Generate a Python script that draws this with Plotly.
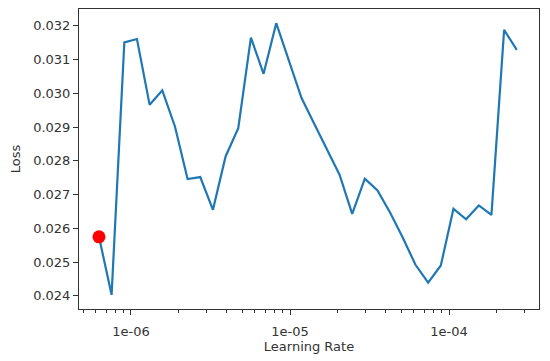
import plotly.graph_objects as go

# Learning rates (x) and losses (y)
lrs = [6.29e-7, 7.55e-7, 9.08e-7, 1.090e-6, 1.310e-6, 1.573e-6, 1.890e-6, 2.270e-6,
       2.727e-6, 3.276e-6, 3.935e-6, 4.727e-6, 5.678e-6, 6.821e-6, 8.193e-6, 9.84e-6,
       1.182e-5, 1.420e-5, 1.706e-5, 2.049e-5, 2.461e-5, 2.956e-5, 3.551e-5, 4.266e-5,
       5.124e-5, 6.155e-5, 7.393e-5, 8.881e-5, 1.067e-4, 1.281e-4, 1.539e-4, 1.849e-4,
       2.221e-4, 2.668e-4]
losses = [0.02575, 0.02403, 0.03151, 0.03161, 0.02966, 0.03009, 0.02902, 0.02746,
          0.02752, 0.02655, 0.02813, 0.02897, 0.03165, 0.03058, 0.03208, 0.03096,
          0.02986, 0.02910, 0.02833, 0.02759, 0.02643, 0.02747, 0.02712, 0.02646,
          0.02572, 0.02492, 0.02439, 0.02490, 0.02658, 0.02627, 0.02668, 0.02640,
          0.03188, 0.03129]
point_lr = [6.29e-7]
point_loss = [0.02575]

x_tickvals = [1e-6, 1e-5, 1e-4]
x_ticktext = ["1e-06", "1e-05", "1e-04"]
y_tickvals = [0.024, 0.025, 0.026, 0.027, 0.028, 0.029, 0.030, 0.031, 0.032]
y_ticktext = ["0.024", "0.025", "0.026", "0.027", "0.028", "0.029", "0.030", "0.031", "0.032"]

minor_vals = [m * 10.0 ** e for e in (-7, -6, -5, -4) for m in range(2, 10)]

fig = go.Figure()
fig.add_trace(go.Scatter(x=lrs, y=losses, mode="lines",
                         line=dict(color="#1f77b4", width=2.2), showlegend=False))
fig.add_trace(go.Scatter(x=point_lr, y=point_loss, mode="markers",
                         marker=dict(color="#ff0000", size=13), showlegend=False))

font = dict(family="DejaVu Sans", size=13, color="#333333")
# page body has an 8px margin, so the figure is 8px smaller and offset
fig.update_layout(
    width=542, height=353,
    margin=dict(l=71, r=11, t=1, b=52),
    paper_bgcolor="white", plot_bgcolor="white",
    font=font,
    xaxis=dict(type="log", range=[-6.327, -3.434],
               tickmode="array", tickvals=x_tickvals, ticktext=x_ticktext,
               ticks="outside", ticklen=5, tickcolor="#333333",
               ticklabelstandoff=5,
               showgrid=False, zeroline=False,
               showline=True, mirror=True, linecolor="#333333", linewidth=1,
               minor=dict(tickmode="array", tickvals=minor_vals, ticks="outside",
                          ticklen=2.5, tickcolor="#333333", showgrid=False),
               title=dict(text="Learning Rate", standoff=2, font=dict(size=13))),
    yaxis=dict(range=[0.02361, 0.0325],
               tickmode="array", tickvals=y_tickvals, ticktext=y_ticktext,
               ticks="outside", ticklen=5, tickcolor="#333333",
               showgrid=False, zeroline=False,
               showline=True, mirror=True, linecolor="#333333", linewidth=1,
               title=dict(text="Loss", standoff=10, font=dict(size=13))),
)

fig.write_html("out.html")
